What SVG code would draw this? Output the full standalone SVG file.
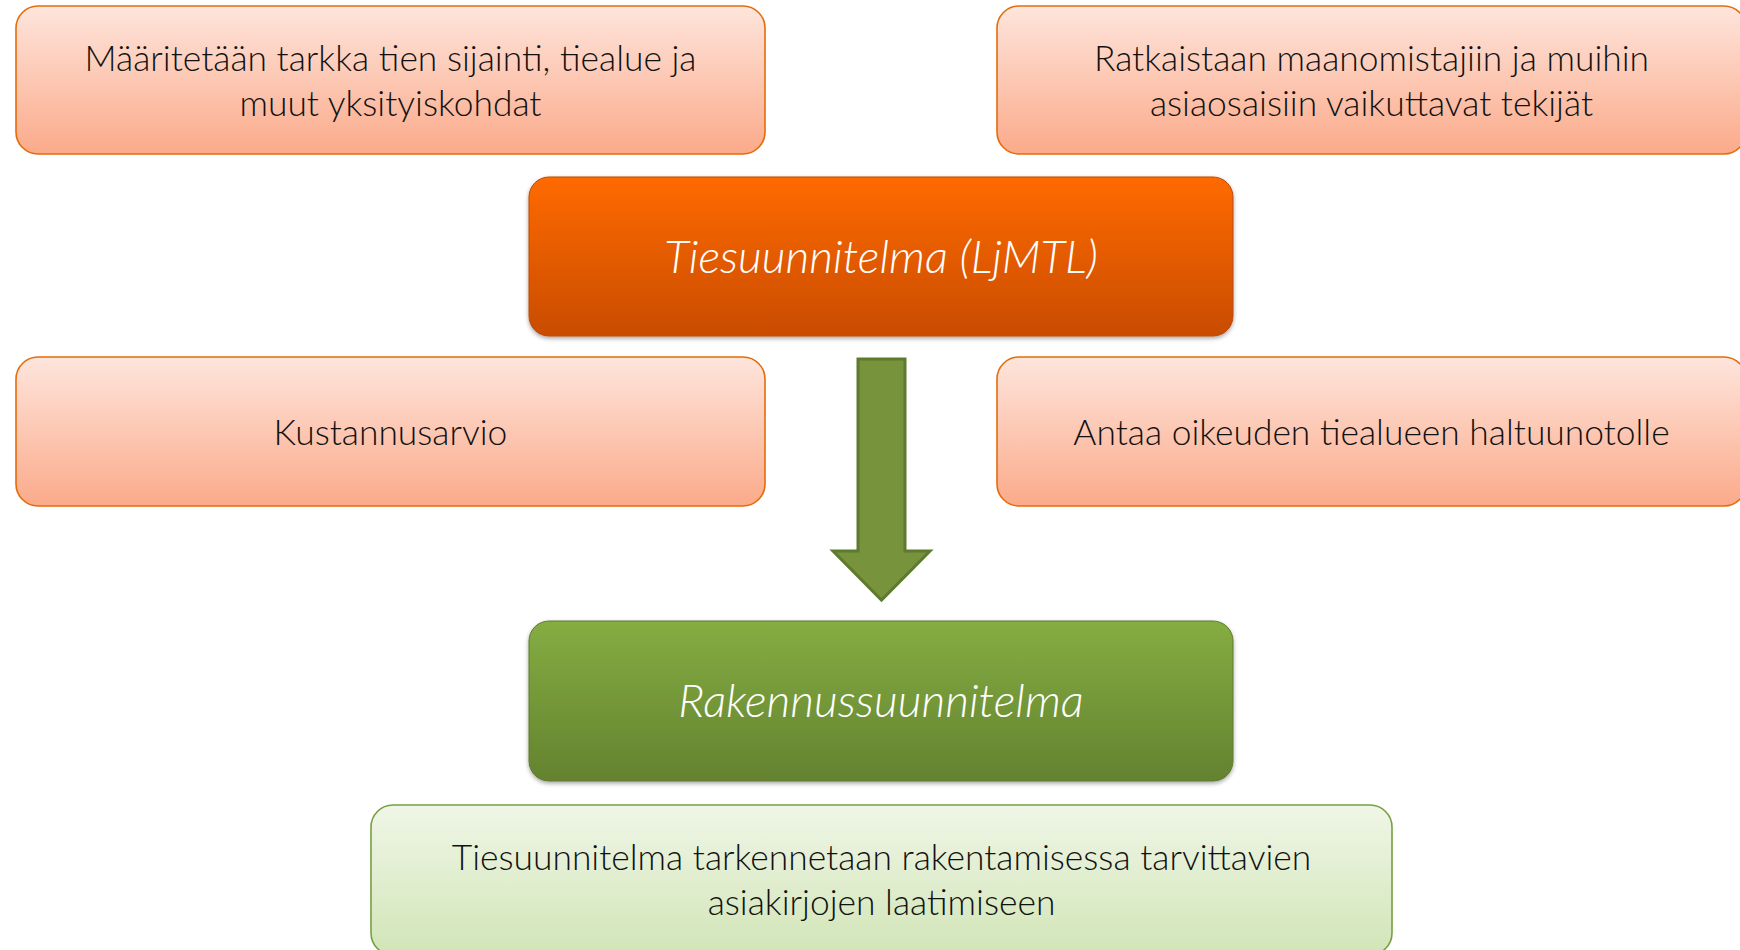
<svg xmlns="http://www.w3.org/2000/svg" width="1740" height="950" viewBox="0 0 1740 950">
<defs>
<linearGradient id="gLight" x1="0" y1="0" x2="0" y2="1">
<stop offset="0" stop-color="#FEE5DC"/><stop offset="1" stop-color="#FBAA8A"/>
</linearGradient>
<linearGradient id="gOrange" x1="0" y1="0" x2="0" y2="1">
<stop offset="0" stop-color="#FF6A06"/><stop offset="1" stop-color="#C94C05"/>
</linearGradient>
<linearGradient id="gGreen" x1="0" y1="0" x2="0" y2="1">
<stop offset="0" stop-color="#84AD42"/><stop offset="1" stop-color="#64822F"/>
</linearGradient>
<linearGradient id="gPale" x1="0" y1="0" x2="0" y2="1">
<stop offset="0" stop-color="#F0F6E7"/><stop offset="1" stop-color="#D1E5B7"/>
</linearGradient>
<filter id="sh" x="-5%" y="-10%" width="110%" height="125%">
<feDropShadow dx="0" dy="2" stdDeviation="2" flood-color="#000" flood-opacity="0.35"/>
</filter>
</defs>
<style>
.light{fill:url(#gLight);stroke:#E46C0A;stroke-width:1.6}
.t{font-family:Lato,"Liberation Sans",sans-serif;font-size:35.4px;font-weight:300;fill:#111;text-anchor:middle}
.h{font-family:Lato,"Liberation Sans",sans-serif;font-size:46px;font-style:italic;font-weight:300;fill:#fff;text-anchor:middle}
</style>
<rect width="1740" height="950" fill="#fff"/>
<g id="n1">
<rect class="light" x="16" y="6" width="749" height="148" rx="22"/>
<text class="t" x="390.5" y="71">Määritetään tarkka tien sijainti, tiealue ja</text>
<text class="t" x="390.5" y="116">muut yksityiskohdat</text>
</g>
<g id="n2">
<rect class="light" x="997" y="6" width="749" height="148" rx="22"/>
<text class="t" x="1371.5" y="71">Ratkaistaan maanomistajiin ja muihin</text>
<text class="t" x="1371.5" y="116">asiaosaisiin vaikuttavat tekijät</text>
</g>
<g id="n3">
<rect x="529" y="177" width="704" height="159" rx="20" fill="url(#gOrange)" stroke="#B94A0A" stroke-width="1" filter="url(#sh)"/>
<text class="h" x="881" y="273">Tiesuunnitelma (LjMTL)</text>
</g>
<g id="n4">
<rect class="light" x="16" y="357" width="749" height="149" rx="22"/>
<text class="t" x="390.5" y="445">Kustannusarvio</text>
</g>
<g id="n5">
<rect class="light" x="997" y="357" width="749" height="149" rx="22"/>
<text class="t" x="1371.5" y="445">Antaa oikeuden tiealueen haltuunotolle</text>
</g>
<g id="connectors">
<path d="M858,359 L905,359 L905,551 L930,551 L881.5,600 L833,551 L858,551 Z" fill="#77933C" stroke="#5D7A2F" stroke-width="3"/>
</g>
<g id="n6">
<rect x="529" y="621" width="704" height="160" rx="20" fill="url(#gGreen)" stroke="#5F7B2E" stroke-width="1" filter="url(#sh)"/>
<text class="h" x="881" y="717">Rakennussuunnitelma</text>
</g>
<g id="n7">
<rect x="371" y="805" width="1021" height="150" rx="22" fill="url(#gPale)" stroke="#77A040" stroke-width="1.6"/>
<text class="t" x="881.5" y="870">Tiesuunnitelma tarkennetaan rakentamisessa tarvittavien</text>
<text class="t" x="881.5" y="915">asiakirjojen laatimiseen</text>
</g>
</svg>
